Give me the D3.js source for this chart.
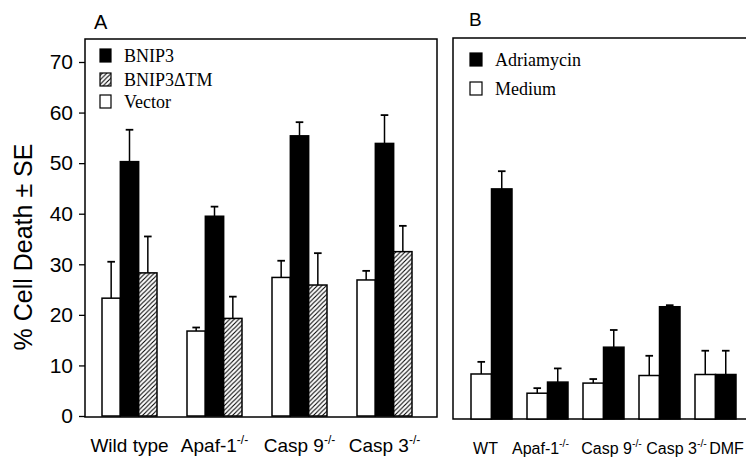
<!DOCTYPE html>
<html>
<head>
<meta charset="utf-8">
<script src="https://cdn.jsdelivr.net/npm/d3@7/dist/d3.min.js"></script>
<style>
  html, body { margin: 0; padding: 0; background: #fff; }
  svg { display: block; }
</style>
</head>
<body>
<svg id="chart" width="746" height="460"></svg>
<script>
// ---------- DATA ----------
const catsA = ["Wild type", "Apaf-1", "Casp 9", "Casp 3"];
const supA = ["", "-/-", "-/-", "-/-"];
const seriesA = ["Vector", "BNIP3", "BNIP3ΔTM"];
const vectorA = [23.3, 16.8, 27.4, 26.9];
const vectorSeA = [7.2, 0.7, 3.3, 1.8];
const bnip3A = [50.3, 39.5, 55.4, 53.9];
const bnip3SeA = [6.3, 1.9, 2.7, 5.6];
const dtmA = [28.3, 19.3, 25.9, 32.5];
const dtmSeA = [7.2, 4.3, 6.3, 5.1];
const legendA = ["BNIP3", "BNIP3ΔTM", "Vector"];

const catsB = ["WT", "Apaf-1", "Casp 9", "Casp 3", "DMF"];
const supB = ["", "-/-", "-/-", "-/-", ""];
const seriesB = ["Medium", "Adriamycin"];
const mediumB = [8.9, 5.1, 7.1, 8.6, 8.8];
const mediumSeB = [2.4, 1.0, 0.8, 3.9, 4.7];
const adriaB = [45.5, 7.3, 14.2, 22.2, 8.8];
const adriaSeB = [3.5, 2.7, 3.4, 0.3, 4.7];
const legendB = ["Adriamycin", "Medium"];

const yTicks = [0, 10, 20, 30, 40, 50, 60, 70];
const yLabel = "% Cell Death \u00B1 SE";

// ---------- SETUP ----------
const svg = d3.select("#chart");
const sans = "Arial, 'Liberation Sans', Helvetica, sans-serif";
const serif = "'Times New Roman', 'Liberation Serif', Times, serif";

const defs = svg.append("defs");
const pat = defs.append("pattern")
  .attr("id", "hatch").attr("patternUnits", "userSpaceOnUse")
  .attr("width", 4.5).attr("height", 4.5);
pat.append("rect").attr("width", 4.5).attr("height", 4.5).attr("fill", "#fff");
pat.append("path")
  .attr("d", "M-1,1 l2,-2 M0,4.5 l4.5,-4.5 M3.5,5.5 l2,-2")
  .attr("stroke", "#000").attr("stroke-width", 1.1);

const fills = { "Vector": "#fff", "BNIP3": "#000", "BNIP3ΔTM": "url(#hatch)",
                "Medium": "#fff", "Adriamycin": "#000" };

// ---------- PANEL A ----------
const yA = d3.scaleLinear().domain([0, 70]).range([416, 62]);
const xA = d3.scaleBand().domain(catsA).range([102, 412]).paddingInner(30 / 85).paddingOuter(0);
const subA = d3.scaleBand().domain(seriesA).range([0, xA.bandwidth()]);

const frameA = { l: 85, t: 39, r: 437, b: 417 };
svg.append("rect")
  .attr("x", frameA.l).attr("y", frameA.t)
  .attr("width", frameA.r - frameA.l).attr("height", frameA.b - frameA.t)
  .attr("fill", "none").attr("stroke", "#000").attr("stroke-width", 1.5);

const axA = svg.append("g").attr("transform", `translate(${frameA.l},0)`)
  .call(d3.axisLeft(yA).tickValues(yTicks).tickSize(6).tickPadding(6).tickFormat(d3.format("d")));
axA.select(".domain").remove();
axA.selectAll(".tick line").attr("stroke-width", 1.3);
axA.selectAll(".tick text").attr("font-family", sans).attr("font-size", 21).attr("fill", "#000");

const rowsA = catsA.map((c, i) => [
  { cat: c, s: "Vector", v: vectorA[i], e: vectorSeA[i] },
  { cat: c, s: "BNIP3", v: bnip3A[i], e: bnip3SeA[i] },
  { cat: c, s: "BNIP3ΔTM", v: dtmA[i], e: dtmSeA[i] }
]).flat();

function drawBars(rows, x, sub, y) {
  const g = svg.append("g");
  rows.forEach(d => {
    const cx = x(d.cat) + sub(d.s) + sub.bandwidth() / 2;
    g.append("line").attr("x1", cx).attr("x2", cx)
      .attr("y1", y(d.v)).attr("y2", y(d.v + d.e))
      .attr("stroke", "#000").attr("stroke-width", 1.5);
    g.append("line").attr("x1", cx - 3.8).attr("x2", cx + 3.8)
      .attr("y1", y(d.v + d.e)).attr("y2", y(d.v + d.e))
      .attr("stroke", "#000").attr("stroke-width", 1.8);
  });
  g.selectAll("rect.bar").data(rows).join("rect").attr("class", "bar")
    .attr("x", d => x(d.cat) + sub(d.s))
    .attr("width", sub.bandwidth())
    .attr("y", d => y(d.v))
    .attr("height", d => y(0) - y(d.v))
    .attr("fill", d => fills[d.s])
    .attr("stroke", "#000").attr("stroke-width", 1.5);
}
drawBars(rowsA, xA, subA, yA);

// category labels A
catsA.forEach((c, i) => {
  const t = svg.append("text")
    .attr("x", xA(c) + xA.bandwidth() / 2).attr("y", 452)
    .attr("text-anchor", "middle").attr("font-family", sans).attr("font-size", 19);
  t.append("tspan").text(c);
  if (supA[i]) t.append("tspan").attr("dy", -8).attr("font-size", 12).text(supA[i]);
});

// legend A
const legA = svg.append("g");
const legAY = [62, 86, 108];
legendA.forEach((s, i) => {
  legA.append("rect").attr("x", 100).attr("y", legAY[i] - 13).attr("width", 11).attr("height", 13)
    .attr("fill", fills[s]).attr("stroke", "#000").attr("stroke-width", 1.2);
  legA.append("text").attr("x", 124).attr("y", legAY[i])
    .attr("font-family", serif).attr("font-size", 18).text(s);
});

svg.append("text").attr("x", 94).attr("y", 29).attr("font-family", sans).attr("font-size", 20).text("A");

// y label
svg.append("text")
  .attr("transform", "translate(32,247) rotate(-90)")
  .attr("text-anchor", "middle").attr("font-family", sans).attr("font-size", 25)
  .text(yLabel);

// ---------- PANEL B ----------
const yB = d3.scaleLinear().domain([0, 70]).range([419, 65]);
const xB = d3.scaleBand().domain(catsB).range([471, 736]).paddingInner(15 / 56).paddingOuter(0);
const subB = d3.scaleBand().domain(seriesB).range([0, xB.bandwidth()]);

const frameB = { l: 453, t: 38, r: 746, b: 419 };
svg.append("path")
  .attr("d", `M${frameB.r},${frameB.t} H${frameB.l} V${frameB.b} H${frameB.r}`)
  .attr("fill", "none").attr("stroke", "#000").attr("stroke-width", 1.5);

const rowsB = catsB.map((c, i) => [
  { cat: c, s: "Medium", v: mediumB[i], e: mediumSeB[i] },
  { cat: c, s: "Adriamycin", v: adriaB[i], e: adriaSeB[i] }
]).flat();
drawBars(rowsB, xB, subB, yB);

// B category labels: typeset as a run under the groups, as in the original
const labelShiftB = [-6, -7, 8, 17, 11];
catsB.forEach((c, i) => {
  const t = svg.append("text")
    .attr("x", xB(c) + xB.bandwidth() / 2 + labelShiftB[i]).attr("y", 454)
    .attr("text-anchor", "middle").attr("font-family", sans).attr("font-size", 16);
  t.append("tspan").text(c);
  if (supB[i]) t.append("tspan").attr("dy", -7).attr("font-size", 10.5).text(supB[i]);
});

const legB = svg.append("g");
const legBY = [66, 95];
legendB.forEach((s, i) => {
  legB.append("rect").attr("x", 470).attr("y", legBY[i] - 13).attr("width", 12).attr("height", 13)
    .attr("fill", fills[s]).attr("stroke", "#000").attr("stroke-width", 1.2);
  legB.append("text").attr("x", 495).attr("y", legBY[i])
    .attr("font-family", serif).attr("font-size", 18).text(s);
});

svg.append("text").attr("x", 469).attr("y", 26).attr("font-family", sans).attr("font-size", 19).text("B");
</script>
</body>
</html>
